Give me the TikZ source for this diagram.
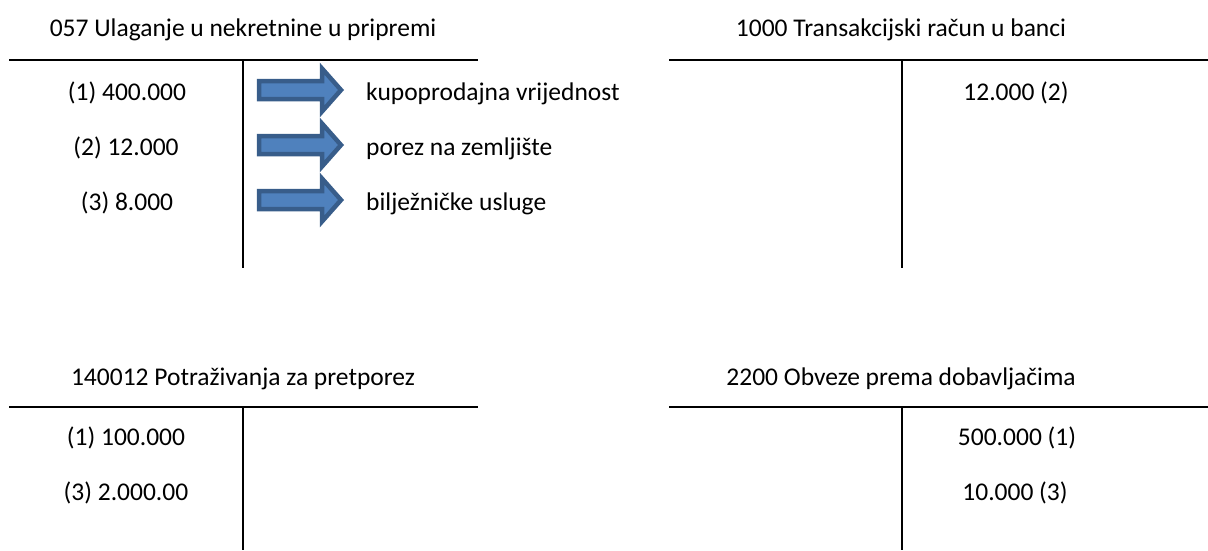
\documentclass[tikz,border=0pt]{standalone}
\usepackage{fontspec}
\setmainfont{Carlito}
\usepackage{xcolor}
\usetikzlibrary{calc}

\definecolor{arrowfill}{HTML}{4F81BD}
\definecolor{arrowline}{HTML}{385D8A}

\begin{document}
\begin{tikzpicture}[x=1pt,y=-1pt,
  font=\fontsize{25.5}{30}\selectfont,
  every node/.style={inner sep=0pt, anchor=base},
  tline/.style={line width=2pt},
  note/.style={anchor=base west}]
\useasboundingbox (0,0) rectangle (1208,550);

% T accounts
\draw[tline] (9,60) -- (478,60);
\draw[tline] (243,60) -- (243,268);
\draw[tline] (669,60) -- (1208,60);
\draw[tline] (902,60) -- (902,268);
\draw[tline] (9,407) -- (478,407);
\draw[tline] (243,407) -- (243,550);
\draw[tline] (669,407) -- (1208,407);
\draw[tline] (902,407) -- (902,550);

% block arrows
\foreach \y in {90,145,200}
  \filldraw[fill=arrowfill, draw=arrowline, line width=4.5pt]
    (259,\y-9) -- (322,\y-9) -- (322,\y-21.5) -- (341,\y)
    -- (322,\y+21.5) -- (322,\y+9) -- (259,\y+9) -- cycle;

% titles
\node (ulaganje) at (243,36) {057 Ulaganje u nekretnine u pripremi};
\node (banka) at (901,36) {1000 Transakcijski račun u banci};
\node (pretporez) at (243,385) {140012 Potraživanja za pretporez};
\node (dobavljaci) at (901,385) {2200 Obveze prema dobavljačima};

% entries
\node (u1) at (127,100) {(1) 400.000};
\node (u2) at (126,155) {(2) 12.000};
\node (u3) at (127,210) {(3) 8.000};
\node[note] (kup) at (366,100) {kupoprodajna vrijednost};
\node[note] (porez) at (366,155) {porez na zemljište};
\node[note] (bilj) at (366,210) {bilježničke usluge};
\node (b2) at (1016,100) {12.000 (2)};
\node (p1) at (126,445) {(1) 100.000};
\node (p3) at (126,500) {(3) 2.000.00};
\node (d1) at (1017,445) {500.000 (1)};
\node (d3) at (1015,500) {10.000 (3)};

\end{tikzpicture}
\end{document}
